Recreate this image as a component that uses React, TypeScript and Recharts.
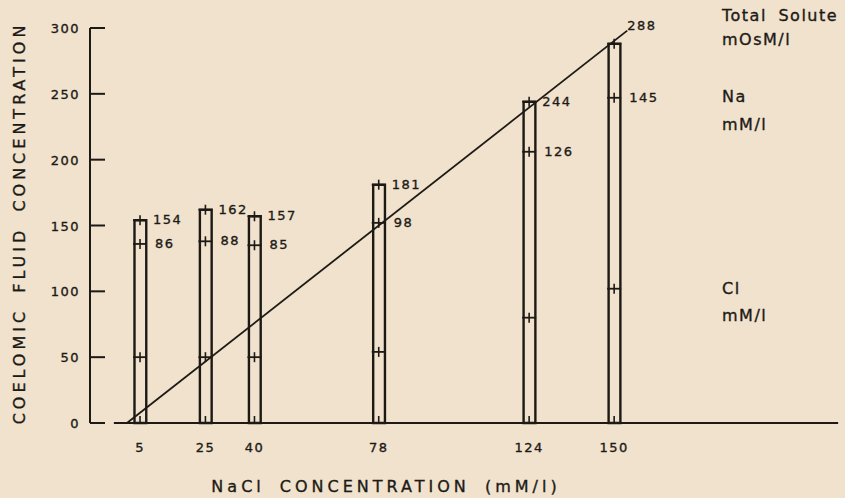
import React from 'react';
import { ComposedChart, Bar, Line, Scatter, XAxis, YAxis, ReferenceLine } from 'recharts';

// NaCl concentration of the medium (mM/l)
const nacl = [5, 25, 40, 78, 124, 150];
// Coelomic fluid values
const totalSolute = [154, 162, 157, 181, 244, 288]; // mOsM/l
const sodium = [86, 88, 85, 98, 126, 145]; // mM/l
const chloride = [50, 50, 50, 54, 80, 102]; // mM/l
// Isosmotic line end points
const isoLineX = [1, 154];
const isoLineY = [0, 298];

const xTicks = [5, 25, 40, 78, 124, 150];
const yTicks = [0, 50, 100, 150, 200, 250, 300];

const X_MIN = -10.3;
const X_MAX = 220.6;

const INK = '#1d1a16';
const BG = '#f0e2cd';
const FONT = '"DejaVu Sans", sans-serif';
const TXT = { fontFamily: FONT, fill: INK, stroke: INK, strokeWidth: 0.35 };

const barData = nacl.map((x, i) => ({ x, total: totalSolute[i] }));
const totalPts = nacl.map((x, i) => ({ x, y: totalSolute[i], label: String(totalSolute[i]), kind: 'total', last: i === nacl.length - 1 }));
const naPts = nacl.map((x, i) => ({ x, y: chloride[i] + sodium[i], label: String(sodium[i]), kind: 'na', last: false }));
const clPts = nacl.map((x, i) => ({ x, y: chloride[i], label: '', kind: 'cl', last: false }));
const basePts = nacl.map((x) => ({ x, y: 0 }));
const isoData = isoLineX.map((x, i) => ({ x, y: isoLineY[i] }));

const Cross = (props: any) => {
  const { cx, cy, payload } = props;
  if (cx == null || cy == null) return null;
  const labelDx = payload.kind === 'total' ? 13 : 15;
  const labelDy = payload.last ? -14 : 4;
  return (
    <g>
      <line x1={cx - 7} x2={cx + 7} y1={cy} y2={cy} stroke={INK} strokeWidth={1.8} />
      <line x1={cx} x2={cx} y1={cy - 5} y2={cy + 5} stroke={INK} strokeWidth={1.6} />
      {payload.label ? (
        <text x={cx + labelDx} y={cy + labelDy} fontSize={13} letterSpacing={1.5} {...TXT}>
          {payload.label}
        </text>
      ) : null}
    </g>
  );
};

const BaseTick = (props: any) => {
  const { cx, cy } = props;
  if (cx == null || cy == null) return null;
  return <line x1={cx} x2={cx} y1={cy} y2={cy - 7} stroke={INK} strokeWidth={1.6} />;
};

// tickMargin=10 → x is 10px left of the axis line
const YTick = (props: any) => {
  const { x, y, payload } = props;
  return (
    <g>
      <line x1={x + 10} x2={x + 25} y1={y} y2={y} stroke={INK} strokeWidth={2} />
      <text x={x} y={y + 5} textAnchor="end" fontSize={13} letterSpacing={1.5} {...TXT}>
        {payload.value}
      </text>
    </g>
  );
};

const XTick = (props: any) => {
  const { x, y, payload } = props;
  return (
    <text x={x} y={y + 29} textAnchor="middle" fontSize={13} letterSpacing={1.5} {...TXT}>
      {payload.value}
    </text>
  );
};

export default function App() {
  return (
    <div style={{ position: 'absolute', left: 0, top: 0, width: 845, height: 498, background: BG, overflow: 'hidden' }}>
      <ComposedChart
        width={845}
        height={498}
        data={barData}
        margin={{ top: 28, right: 0, bottom: 0, left: 0 }}
      >
        <XAxis
          type="number"
          dataKey="x"
          domain={[X_MIN, X_MAX]}
          ticks={xTicks}
          axisLine={false}
          tickLine={false}
          tickSize={0}
          tickMargin={0}
          tick={<XTick />}
          height={75}
          interval={0}
        />
        <YAxis
          type="number"
          domain={[0, 300]}
          ticks={yTicks}
          width={90}
          axisLine={{ stroke: INK, strokeWidth: 2 }}
          tickLine={false}
          tickSize={0}
          tickMargin={10}
          tick={<YTick />}
          interval={0}
        />
        <ReferenceLine
          segment={[{ x: -3, y: 0 }, { x: 218.5, y: 0 }]}
          stroke={INK}
          strokeWidth={2}
          ifOverflow="visible"
        />
        <Bar
          dataKey="total"
          barSize={14}
          fill="none"
          stroke={INK}
          strokeWidth={2.4}
          isAnimationActive={false}
        />
        <Line
          data={isoData}
          dataKey="y"
          type="linear"
          stroke={INK}
          strokeWidth={1.8}
          dot={false}
          activeDot={false}
          isAnimationActive={false}
        />
        <Scatter data={totalPts} dataKey="y" shape={<Cross />} isAnimationActive={false} />
        <Scatter data={naPts} dataKey="y" shape={<Cross />} isAnimationActive={false} />
        <Scatter data={clPts} dataKey="y" shape={<Cross />} isAnimationActive={false} />
        <Scatter data={basePts} dataKey="y" shape={<BaseTick />} isAnimationActive={false} />
      </ComposedChart>
      <svg width={845} height={498} style={{ position: 'absolute', left: 0, top: 0, pointerEvents: 'none' }}>
        <text
          transform="translate(25,223) rotate(-90)"
          textAnchor="middle"
          fontSize={16}
          letterSpacing={4}
          wordSpacing={6}
          {...TXT}
        >
          COELOMIC FLUID CONCENTRATION
        </text>
        <text x={386} y={492} textAnchor="middle" fontSize={16} letterSpacing={4} wordSpacing={6} {...TXT}>
          NaCl CONCENTRATION (mM/l)
        </text>
        <g fontSize={16} letterSpacing={1.5} {...TXT}>
          <text x={722} y={21} wordSpacing={5}>Total Solute</text>
          <text x={722} y={45}>mOsM/l</text>
          <text x={722} y={102}>Na</text>
          <text x={722} y={130}>mM/l</text>
          <text x={722} y={294}>Cl</text>
          <text x={722} y={321}>mM/l</text>
        </g>
      </svg>
    </div>
  );
}
